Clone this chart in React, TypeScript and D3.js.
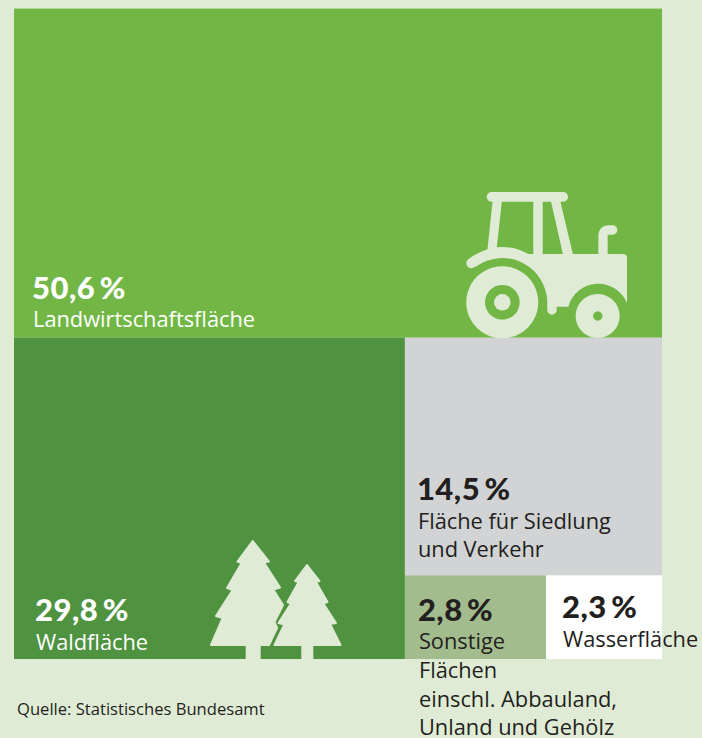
import * as d3 from "d3";

const WIDTH = 702;
const HEIGHT = 738;

// share of the area in percent, outermost split first
const categories = ["land", "wald", "siedlung", "sonstige", "wasser"];
const values = [50.6, 29.8, 14.5, 2.8, 2.3];
const percentLabels = ["50,6\u2009%", "29,8\u2009%", "14,5\u2009%", "2,8\u2009%", "2,3\u2009%"];
const nameLabels = [
  ["Landwirtschaftsfläche"],
  ["Waldfläche"],
  ["Fläche für Siedlung", "und Verkehr"],
  ["Sonstige", "Flächen", "einschl. Abbauland,", "Unland und Gehölz"],
  ["Wasserfläche"],
];
const source = "Quelle: Statistisches Bundesamt";

const colors = ["#72b745", "#4f9240", "#d1d3d4", "#a3bc8e", "#ffffff"];
const textColors = ["#ffffff", "#ffffff", "#231f20", "#231f20", "#231f20"];
const BG = "#e0ebd5";

const CHART = { x: 14, y: 8.6, width: 648, height: 650.4 };
// text start inside each cell: dx from the left edge, dy of the percent baseline from the top
const TEXT_OFFSET = [
  [19, 290],
  [22, 283.5],
  [13, 162.5],
  [14, 45.5],
  [17, 43],
];
const LINE_HEIGHT = 28.7;

type Node = { name: string; value?: number; children?: Node[] };

// nest so each level splits one leaf off the rest
const nest = (i: number): Node => {
  const leaf = { name: categories[i], value: values[i] };
  if (i === categories.length - 1) return leaf;
  return { name: "rest" + i, children: [leaf, nest(i + 1)] };
};

const tile = (node: any, x0: number, y0: number, x1: number, y1: number) => {
  (node.depth % 2 === 0 ? d3.treemapSlice : d3.treemapDice)(node, x0, y0, x1, y1);
};

const Tractor = () => (
  <g fill={BG}>
    <rect x={486.7} y={192} width={81.3} height={9.7} rx={4.8} />
    <path d="M492.7,200 L502,200 L496.7,248 L487.3,251 Z" />
    <rect x={533.3} y={200} width={9.4} height={56} />
    <path d="M550.7,200 L560,200 L573.3,256 L563.3,256 Z" />
    <path d="M603,256 V236 Q603,230 609,230 H612.7" fill="none" stroke={BG} strokeWidth={9.3} strokeLinecap="round" />
    <path d="M474.5,267 A4.7,4.7 0 0 1 468,259.5 Q483,248 500,247 Q515,246.5 528.3,254 L623,254 Q627,254 627,258 L627,303 A31,31 0 0 0 568.3,306.7 L556.7,306.7 L556.7,310 A4.7,4.7 0 0 1 547.3,310 L547.3,302 A45,45 0 0 0 476,266.5 Z" />
    <path fillRule="evenodd" d="M502.3,266.3 A36,36 0 1 1 502.2,266.3 Z M502.3,285 A17.3,17.3 0 1 0 502.4,285 Z" />
    <circle cx={502.3} cy={302.3} r={8.3} />
    <path fillRule="evenodd" d="M597.7,294 A22,22 0 1 1 597.6,294 Z M597.7,311.3 A4.7,4.7 0 1 0 597.8,311.3 Z" />
  </g>
);

const Trees = () => (
  <g fill={BG} stroke={BG} strokeWidth={2} strokeLinejoin="round">
    <path d="M252.7,541 L269,561.5 L264,562.5 L280,587.5 L273.3,589.5 L283,605 L274.5,622 L277,628 L269,645 L211,645 L222.7,618 L216,616 L232.7,590 L227,588 L241.7,563 L237.5,561.5 Z" />
    <path d="M307,565 L319.5,581 L316,582 L327.5,602 L323.3,603.5 L336,623 L330,624 L340.5,645 L274.5,645 L284.3,624.5 L278.5,623 L291,603.5 L287.5,602 L298.7,582 L295,581 Z" />
    <rect x={245.7} y={645} width={15} height={14} stroke="none" />
    <rect x={301.3} y={645} width={12} height={14} stroke="none" />
  </g>
);

export default function App() {
  const root = d3.hierarchy(nest(0)).sum((d) => d.value ?? 0);
  // no sort: the order of the source stays
  d3.treemap<Node>().tile(tile).size([CHART.width, CHART.height])(root);
  const leaves = root.leaves() as d3.HierarchyRectangularNode<Node>[];

  return (
    <svg
      width={WIDTH}
      height={HEIGHT}
      style={{ position: "absolute", left: 0, top: 0, display: "block" }}
    >
      <rect width={WIDTH} height={HEIGHT} fill={BG} />
      <g transform={`translate(${CHART.x},${CHART.y})`}>
        {leaves.map((d, i) => (
          <rect key={d.data.name} x={d.x0} y={d.y0} width={d.x1 - d.x0} height={d.y1 - d.y0} fill={colors[i]} />
        ))}
      </g>
      <Tractor />
      <Trees />
      <g transform={`translate(${CHART.x},${CHART.y})`}>
        {leaves.map((d, i) => {
          const x = d.x0 + TEXT_OFFSET[i][0];
          const y = d.y0 + TEXT_OFFSET[i][1];
          return (
            <g key={d.data.name} fill={textColors[i]}>
              <text x={x - 1} y={y} fontFamily="Lato" fontWeight={900} fontSize={31} letterSpacing={0.5}>
                {percentLabels[i]}
              </text>
              {nameLabels[i].map((line, j) => (
                <text key={j} x={x} y={y + 28.4 + j * LINE_HEIGHT} fontFamily="'Open Sans'" fontSize={21.8}>
                  {line}
                </text>
              ))}
            </g>
          );
        })}
      </g>
      <text x={17} y={715} fontFamily="'Open Sans'" fontSize={16.6} fill="#231f20">
        {source}
      </text>
    </svg>
  );
}
